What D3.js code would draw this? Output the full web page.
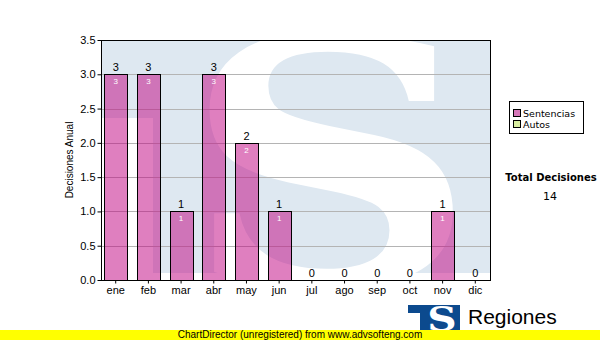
<!DOCTYPE html>
<html><head><meta charset="utf-8">
<script src="https://cdn.jsdelivr.net/npm/d3@7"></script>
<style>body{margin:0;background:#fff}svg{display:block;font-family:Arial,"Liberation Sans",sans-serif}</style>
</head><body><div id="c"></div>
<script>
const months = ["ene","feb","mar","abr","may","jun","jul","ago","sep","oct","nov","dic"];
const sentencias = [3,3,1,3,2,1,0,0,0,0,1,0];
const autos = [0,0,0,0,0,0,0,0,0,0,0,0];
const yTicks = [0,0.5,1,1.5,2,2.5,3,3.5];
const legendItems = ["Sentencias","Autos"];
const totalLabel = "Total Decisiones";
const totalValue = 14;

const W=600,H=340;
const m={l:101,r:490,t:40,b:280};
const svg=d3.select("#c").append("svg").attr("width",W).attr("height",H);
const x=d3.scaleBand().domain(months).range([m.l,m.r]).paddingInner(0.3).paddingOuter(0.1);
const y=d3.scaleLinear().domain([0,3.5]).range([m.b,m.t]);

// watermark
const defs=svg.append("defs");
defs.append("clipPath").attr("id","pc").append("rect").attr("x",m.l).attr("y",m.t).attr("width",m.r-m.l).attr("height",m.b-m.t);
const wm=svg.append("g").attr("clip-path","url(#pc)");
wm.append("path").attr("fill","#dee8f1")
  .attr("d",`M${m.l},${m.t}H${m.r}V273H153V118H${m.l}Z`);
wm.append("text").text("S").attr("fill","#fff")
  .attr("font-family","DejaVu Serif").attr("font-weight","bold").attr("font-size",340)
  .attr("text-anchor","middle")
  .attr("transform","translate(330,284) scale(1.2,1)");

// grid
svg.append("g").selectAll("line").data(yTicks.slice(1,-1)).join("line")
  .attr("x1",m.l).attr("x2",m.r).attr("y1",d=>Math.round(y(d))+0.5).attr("y2",d=>Math.round(y(d))+0.5)
  .attr("stroke","#b4b4b4");

// bars
const bars=svg.append("g");
bars.selectAll("rect").data(sentencias.map((v,i)=>({m:months[i],v})).filter(d=>d.v>0)).join("rect")
  .attr("x",d=>Math.round(x(d.m))+0.5).attr("y",d=>Math.round(y(d.v))+0.5)
  .attr("width",Math.round(x.bandwidth())).attr("height",d=>Math.round(y(0))-Math.round(y(d.v)))
  .attr("fill","rgba(191,0,127,0.5)").attr("stroke","#000");

// labels
svg.append("g").selectAll("text").data(sentencias.map((v,i)=>({m:months[i],v}))).join("text")
  .attr("x",d=>x(d.m)+x.bandwidth()/2).attr("y",d=>y(d.v)-3)
  .attr("text-anchor","middle").attr("font-size",11).attr("fill","#000").text(d=>d.v);
svg.append("g").selectAll("text").data(sentencias.map((v,i)=>({m:months[i],v})).filter(d=>d.v>0)).join("text")
  .attr("x",d=>x(d.m)+x.bandwidth()/2).attr("y",d=>y(d.v)+10)
  .attr("text-anchor","middle").attr("font-size",8).attr("fill","#fff").text(d=>d.v);

// frame
svg.append("rect").attr("x",m.l+0.5).attr("y",m.t+0.5).attr("width",m.r-m.l).attr("height",m.b-m.t)
  .attr("fill","none").attr("stroke","#000");

// axes
const ya=svg.append("g").attr("transform",`translate(${m.l+0.5},0)`)
  .call(d3.axisLeft(y).tickValues(yTicks).tickFormat(d3.format(".1f")).tickSize(4).tickPadding(2));
ya.select(".domain").remove();
ya.selectAll("text").attr("font-size",11).attr("font-family","Arial").attr("fill","#000");
ya.selectAll("line").attr("stroke","#000");
const xa=svg.append("g").attr("transform",`translate(0,${m.b+0.5})`)
  .call(d3.axisBottom(x).tickSize(3).tickPadding(3));
xa.select(".domain").remove();
xa.selectAll("text").attr("font-size",11).attr("font-family","Arial").attr("fill","#000");
xa.selectAll("line").attr("stroke","#000");

svg.append("text").attr("transform","translate(73,160) rotate(-90)").attr("text-anchor","middle")
  .attr("font-size",10).attr("font-family","Arial").text("Decisiones Anual");

// legend
const lg=svg.append("g");
lg.append("rect").attr("x",509.5).attr("y",101.5).attr("width",74).attr("height",32).attr("fill","#fff").attr("stroke","#000");
const lcol=["#d777b9","#d8eda0"];
legendItems.forEach((t,i)=>{
  lg.append("rect").attr("x",513.5).attr("y",109.5+i*11).attr("width",7).attr("height",7).attr("fill",lcol[i]).attr("stroke","#000");
  lg.append("text").attr("x",523).attr("y",117+i*11).attr("font-size",9.5).attr("font-family","DejaVu Sans").attr("fill","#000").text(t);
});
svg.append("text").attr("x",551).attr("y",181).attr("text-anchor","middle").attr("font-size",10)
  .attr("font-weight","bold").attr("font-family","DejaVu Sans").text(totalLabel);
svg.append("text").attr("x",550).attr("y",200).attr("text-anchor","middle").attr("font-size",11)
  .attr("font-family","DejaVu Sans").text(totalValue);

// logo
const lo=svg.append("g");
lo.append("path").attr("fill","#0c4a8e").attr("d","M408,305H460V330H420V313H408Z");
lo.append("text").text("S").attr("fill","#fff").attr("font-family","DejaVu Serif").attr("font-weight","bold")
  .attr("font-size",34).attr("text-anchor","middle").attr("transform","translate(442,331) scale(1.2,1)");
svg.append("text").attr("x",468).attr("y",324).attr("font-size",21).attr("font-family","Arial").text("Regiones");

// yellow bar
svg.append("rect").attr("x",0).attr("y",330).attr("width",W).attr("height",10).attr("fill","#ffff00");
svg.append("text").attr("x",300).attr("y",338).attr("text-anchor","middle").attr("font-size",10)
  .attr("font-family","Arial").text("ChartDirector (unregistered) from www.advsofteng.com");
</script></body></html>
